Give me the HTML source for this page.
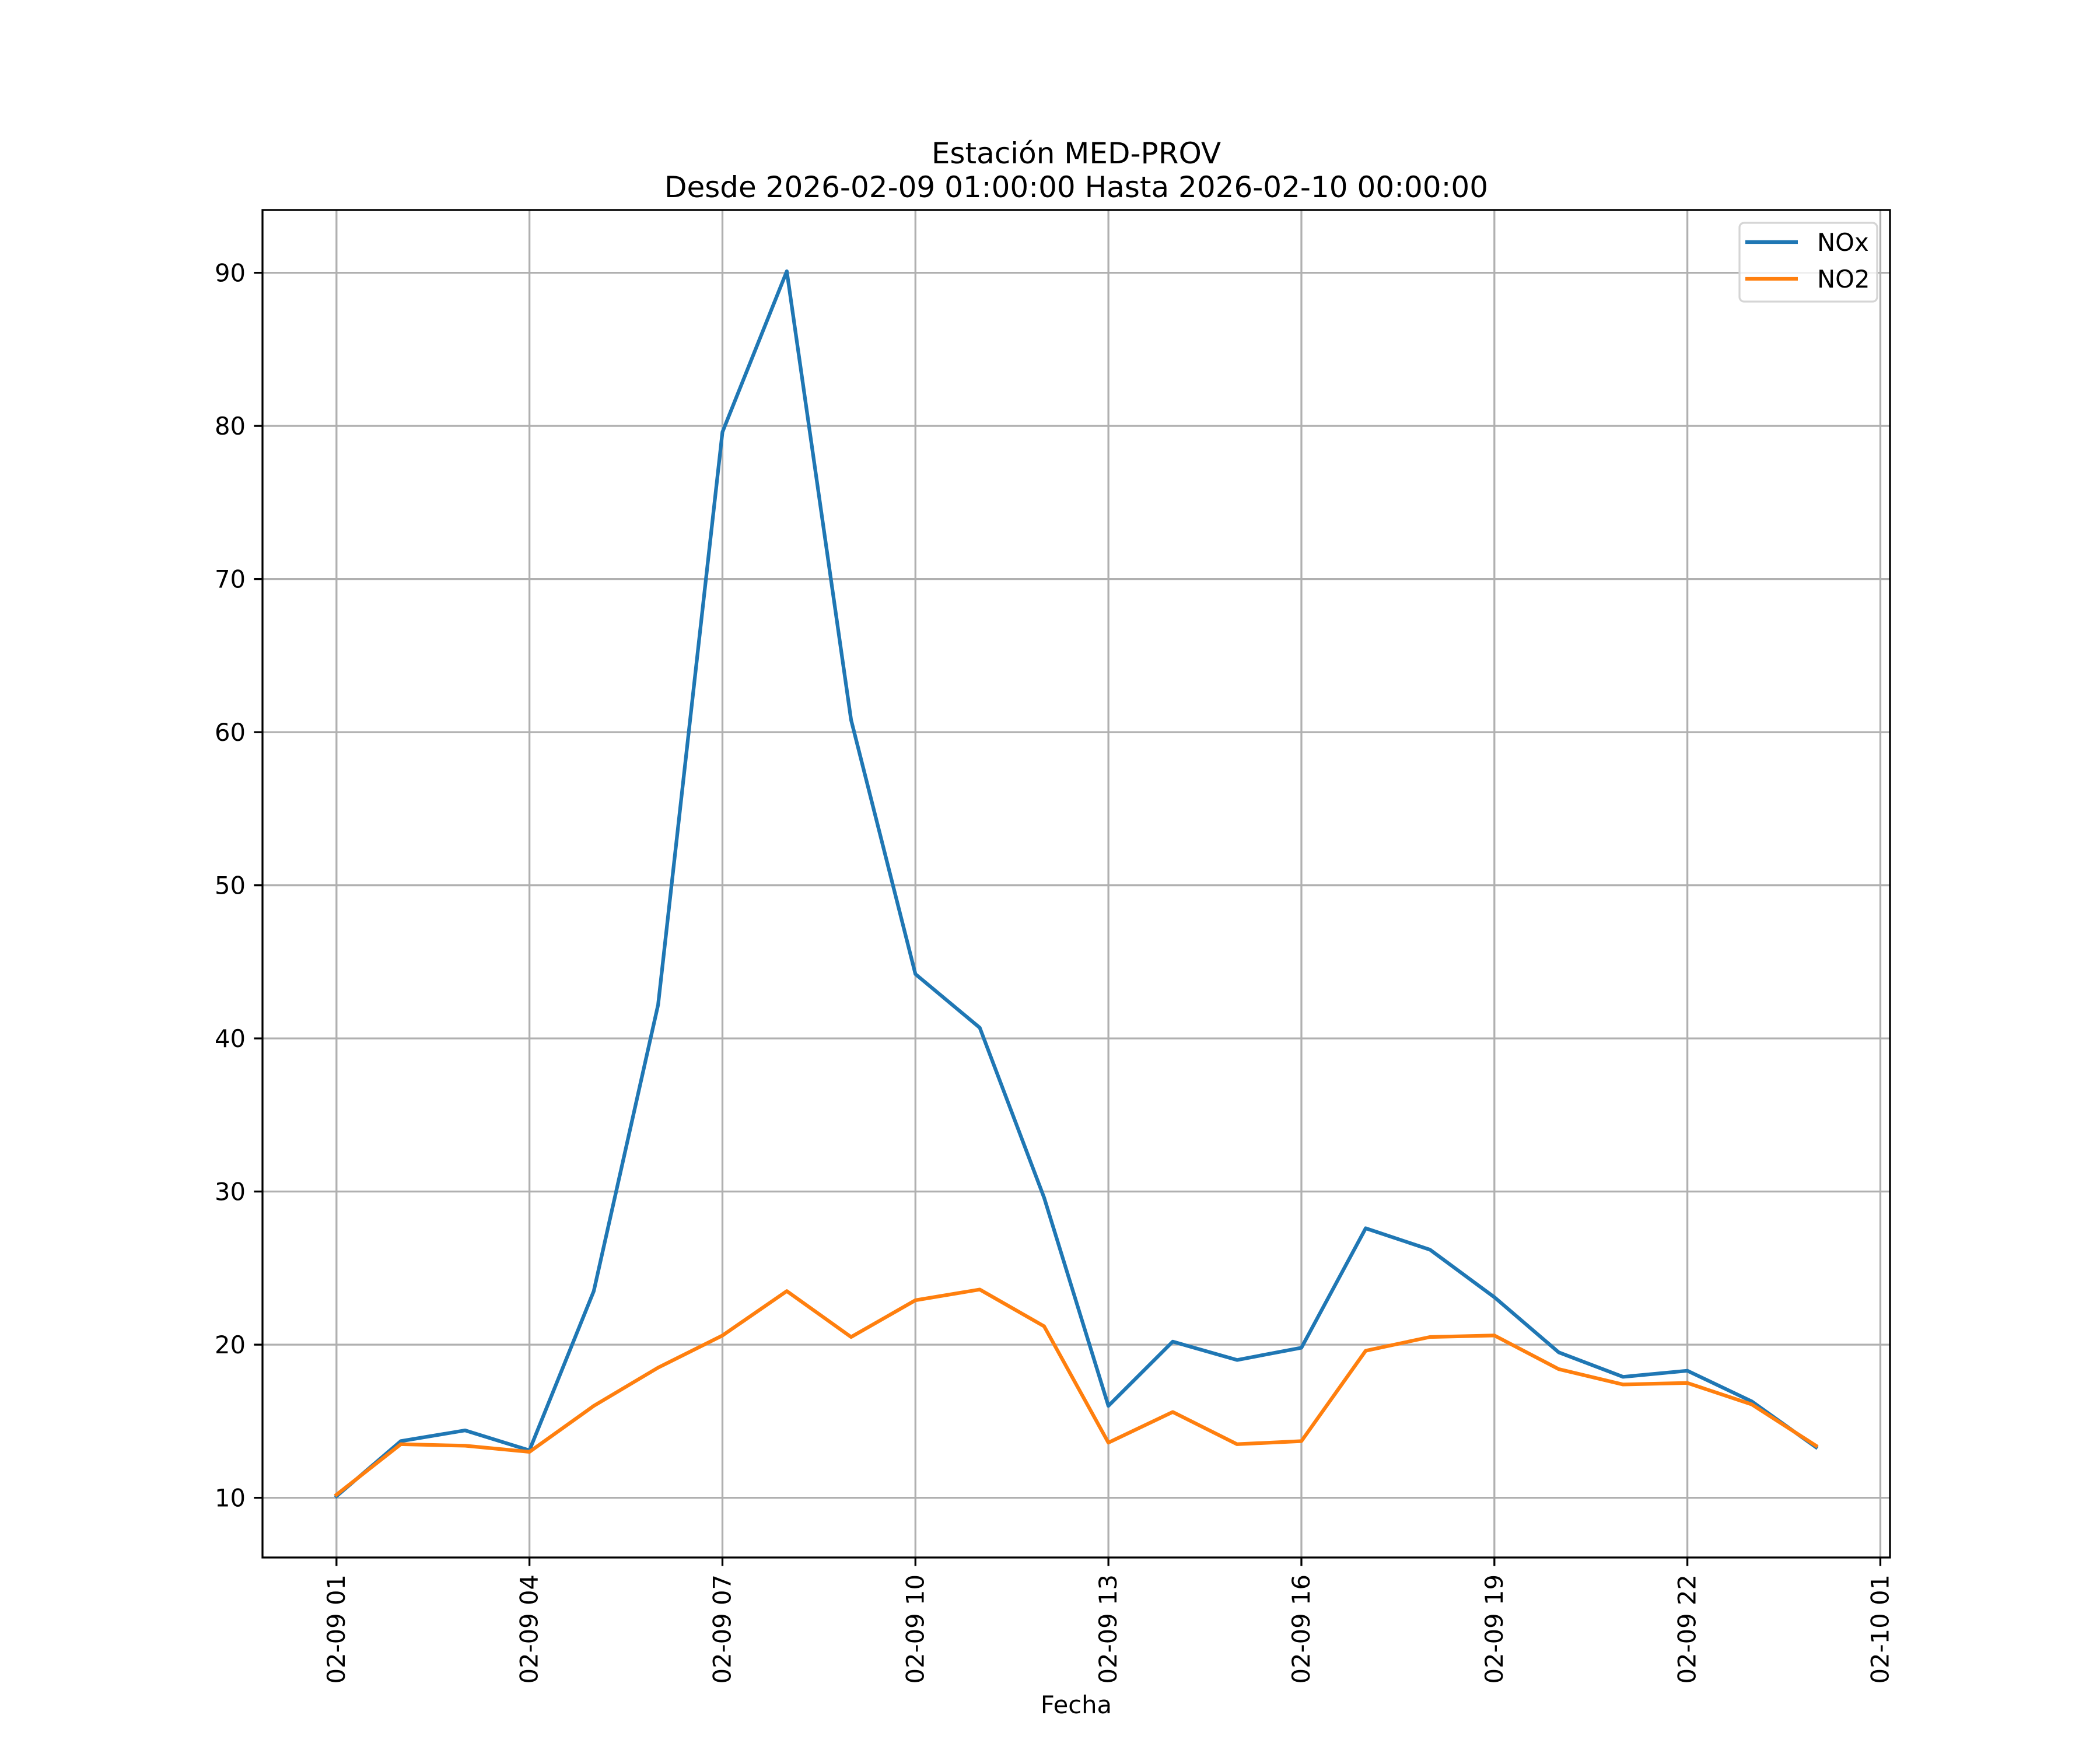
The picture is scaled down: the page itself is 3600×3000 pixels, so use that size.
<!DOCTYPE html>
<html><head><meta charset="utf-8"><style>
html,body{margin:0;padding:0;background:#fff;}
svg{display:block;font-family:"DejaVu Sans","Liberation Sans",sans-serif;}
</style></head><body>
<svg id="chart" width="3600" height="3000" viewBox="0 0 3600 3000" xmlns="http://www.w3.org/2000/svg">
<rect width="3600" height="3000" fill="#fff"/>
<text x="1845" y="280" font-size="50" text-anchor="middle">Estación MED-PROV</text>
<text x="1845" y="338" font-size="50" text-anchor="middle">Desde 2026-02-09 01:00:00 Hasta 2026-02-10 00:00:00</text>
<g id="grid"></g>
<g id="series"></g>
<rect x="450" y="360" width="2790" height="2310" fill="none" stroke="#000" stroke-width="3.3"/>
<g id="ticks"></g>
<text x="1845" y="2937" font-size="41.7" text-anchor="middle">Fecha</text>
<g>
<rect x="2982" y="382" width="236" height="135" rx="8" fill="#fff" fill-opacity="0.8" stroke="#d5d5d5" stroke-width="3.3"/>
<line x1="2992" y1="415" x2="3082" y2="415" stroke="#1f77b4" stroke-width="6.25"/>
<text x="3115" y="430" font-size="41.7">NOx</text>
<line x1="2992" y1="478" x2="3082" y2="478" stroke="#ff7f0e" stroke-width="6.25"/>
<text x="3115" y="493" font-size="41.7">NO2</text>
</g>
</svg>
<script>
const hours = [1,2,3,4,5,6,7,8,9,10,11,12,13,14,15,16,17,18,19,20,21,22,23,24];
const noxValues = [10.1,13.7,14.4,13.1,23.5,42.2,79.6,90.1,60.8,44.2,40.7,29.6,16.0,20.2,19.0,19.8,27.6,26.2,23.1,19.5,17.9,18.3,16.3,13.3];
const no2Values = [10.2,13.5,13.4,13.0,16.0,18.5,20.6,23.5,20.5,22.9,23.6,21.2,13.6,15.6,13.5,13.7,19.6,20.5,20.6,18.4,17.4,17.5,16.1,13.4];
const xTickHours = [1,4,7,10,13,16,19,22,25];
const xTickLabels = ["02-09 01","02-09 04","02-09 07","02-09 10","02-09 13","02-09 16","02-09 19","02-09 22","02-10 01"];
const yTicks = [10,20,30,40,50,60,70,80,90];

const NS = "http://www.w3.org/2000/svg";
const L=450,R=3240,T=360,B=2670;
const all = noxValues.concat(no2Values);
const ymin0=Math.min(...all), ymax0=Math.max(...all), yr=ymax0-ymin0;
const YMIN=ymin0-0.05*yr, YMAX=ymax0+0.05*yr;
const xr=hours[hours.length-1]-hours[0];
const XMIN=hours[0]-0.05*xr, XMAX=hours[hours.length-1]+0.05*xr;
function xs(h){return L+(h-XMIN)/(XMAX-XMIN)*(R-L);}
function ys(v){return B-(v-YMIN)/(YMAX-YMIN)*(B-T);}
function mk(tag,attrs,parent){const e=document.createElementNS(NS,tag);for(const k in attrs)e.setAttribute(k,attrs[k]);parent.appendChild(e);return e;}
const grid=document.getElementById('grid'), ticks=document.getElementById('ticks'), series=document.getElementById('series');
xTickHours.forEach((h,i)=>{
  const x=xs(h);
  const g=mk('line',{x1:x,y1:T,x2:x,y2:B,stroke:'#b0b0b0','stroke-width':3.3},grid);
  
  
  const t=mk('line',{x1:x,y1:B,x2:x,y2:B+14.6,stroke:'#000','stroke-width':3.3},ticks);
  
  
  const lb=mk('text',{x:0,y:0,'font-size':41.7,'text-anchor':'end',transform:`translate(${x+14},${B+29}) rotate(-90)`},ticks);
  lb.textContent=xTickLabels[i];
  
  
});
yTicks.forEach(v=>{
  const y=ys(v);
  const g=mk('line',{x1:L,y1:y,x2:R,y2:y,stroke:'#b0b0b0','stroke-width':3.3},grid);
  
  
  const t=mk('line',{x1:L-14.6,y1:y,x2:L,y2:y,stroke:'#000','stroke-width':3.3},ticks);
  
  
  const lb=mk('text',{x:L-29,y:y+15,'font-size':41.7,'text-anchor':'end'},ticks);
  lb.textContent=v;
  
  
});
function drawLine(vals,color,name){
  const pts=vals.map((v,i)=>xs(hours[i]).toFixed(1)+','+ys(v).toFixed(1)).join(' ');
  const p=mk('polyline',{points:pts,fill:'none',stroke:color,'stroke-width':6.25,'stroke-linejoin':'round','stroke-linecap':'square'},series);
  
  
}
drawLine(noxValues,'#1f77b4','nox-line');
drawLine(no2Values,'#ff7f0e','no2-line');
</script>
</body></html>
